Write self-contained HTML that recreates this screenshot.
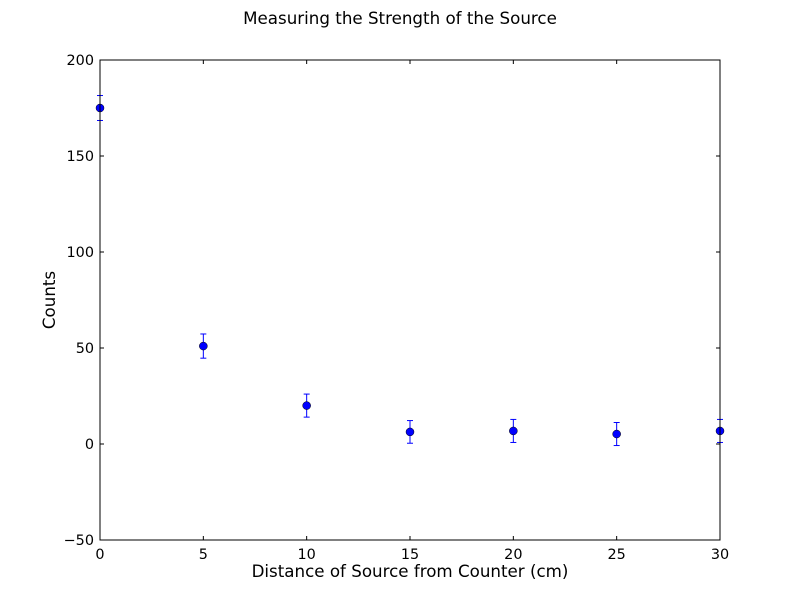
<!DOCTYPE html>
<html><head><meta charset="utf-8"><style>
body{margin:0;background:#fff;}
text{font-family:"DejaVu Sans","Liberation Sans",sans-serif;}
</style></head><body>
<svg id="chart" width="800" height="600" xmlns="http://www.w3.org/2000/svg">
<rect width="800" height="600" fill="#fff"/>
<text x="400" y="24" text-anchor="middle" font-size="16.7">Measuring the Strength of the Source</text>
<g id="marks"></g>
<rect x="100" y="60" width="620" height="480" fill="none" stroke="#000" stroke-width="1"/>
<g id="axes"></g>
<text x="410" y="577" text-anchor="middle" font-size="16.7">Distance of Source from Counter (cm)</text>
<text x="0" y="0" transform="translate(55,300) rotate(-90)" text-anchor="middle" font-size="16.7">Counts</text>
</svg>
<script>
const xValues=[0,5,10,15,20,25,30];
const yValues=[175,51,20,6.3,6.8,5.2,6.8];
const yErrors=[6.5,6.3,6,5.9,6,6,6];
const xTicks=[0,5,10,15,20,25,30];
const yTicks=[-50,0,50,100,150,200];
const NS="http://www.w3.org/2000/svg";
const L=100,R=720,T=60,B=540;
const xs=v=>L+(v-0)/30*(R-L);
const ys=v=>B-(v+50)/250*(B-T);
function mk(tag,attrs,parent){const e=document.createElementNS(NS,tag);for(const k in attrs)e.setAttribute(k,attrs[k]);parent.appendChild(e);return e;}
const marks=document.getElementById('marks'),axes=document.getElementById('axes');
xValues.forEach((x,i)=>{
  const cx=xs(x),y=yValues[i],e=yErrors[i];
  const g=mk('g',{},marks);
  
  
  mk('line',{x1:cx,x2:cx,y1:ys(y-e),y2:ys(y+e),stroke:'#0000ff','stroke-width':1},g);
  mk('line',{x1:cx-3,x2:cx+3,y1:ys(y-e),y2:ys(y-e),stroke:'#0000ff','stroke-width':1},g);
  mk('line',{x1:cx-3,x2:cx+3,y1:ys(y+e),y2:ys(y+e),stroke:'#0000ff','stroke-width':1},g);
  mk('circle',{cx:cx,cy:ys(y),r:4,fill:'#0000ff',stroke:'#000','stroke-width':0.5},g);
});
xTicks.forEach(t=>{
  const x=xs(t);
  mk('line',{x1:x,x2:x,y1:B,y2:B-4,stroke:'#000'},axes);
  mk('line',{x1:x,x2:x,y1:T,y2:T+4,stroke:'#000'},axes);
  const tx=mk('text',{x:x,y:B+19,'text-anchor':'middle','font-size':14.4},axes);
  tx.textContent=t;
  
  
});
yTicks.forEach(t=>{
  const y=ys(t);
  mk('line',{x1:L,x2:L+4,y1:y,y2:y,stroke:'#000'},axes);
  mk('line',{x1:R,x2:R-4,y1:y,y2:y,stroke:'#000'},axes);
  const tx=mk('text',{x:L-6,y:y+5,'text-anchor':'end','font-size':14.4},axes);
  tx.textContent=t<0?'\u2212'+Math.abs(t):t;
  
  
});
</script>
</body></html>
